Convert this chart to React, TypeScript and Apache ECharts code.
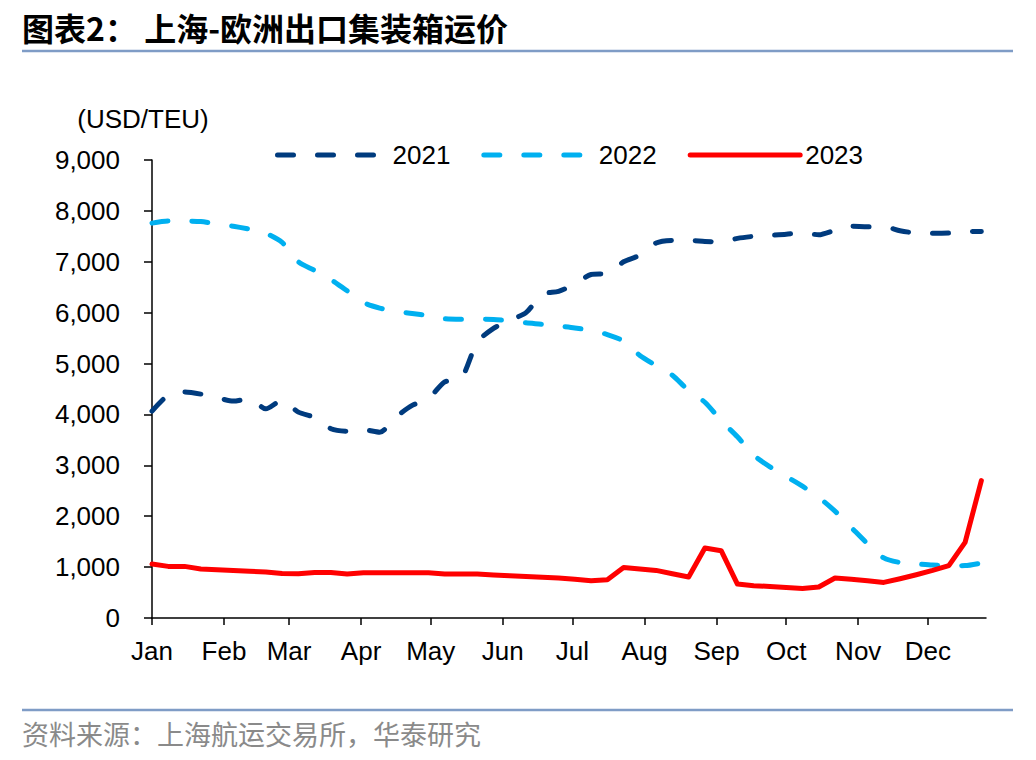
import React, { useEffect, useRef } from "react";
import * as echarts from "echarts";

const monthLabels = ["Jan", "Feb", "Mar", "Apr", "May", "Jun", "Jul", "Aug", "Sep", "Oct", "Nov", "Dec"];
const monthStartDays = [0, 31, 59, 90, 120, 151, 181, 212, 243, 273, 304, 334];
const axisEndDay = 359;
const weekDays = 7;

const yTicks = [0, 1000, 2000, 3000, 4000, 5000, 6000, 7000, 8000, 9000];

const values2021 = [
  4065, 4380, 4440, 4400, 4330, 4262, 4310, 4110, 4280, 4045,
  3940, 3720, 3671, 3700, 3650, 3950, 4177, 4310, 4640, 4700,
  5420, 5690, 5850, 6000, 6360, 6420, 6560, 6750, 6770, 7000,
  7130, 7370, 7420, 7420, 7400, 7390, 7460, 7500, 7520, 7540,
  7570, 7530, 7620, 7700, 7690, 7690, 7610, 7565, 7560, 7565,
  7590, 7596,
];

const values2022 = [
  7760, 7800, 7800, 7790, 7740, 7700, 7640, 7560, 7380, 7000,
  6830, 6650, 6430, 6200, 6090, 6020, 5985, 5940, 5880, 5870,
  5870, 5865, 5840, 5800, 5770, 5735, 5700, 5650, 5570, 5440,
  5160, 4960, 4770, 4470, 4240, 3880, 3560, 3200, 2970, 2780,
  2590, 2370, 2100, 1780, 1460, 1180, 1090, 1065, 1040, 1028,
  1030, 1081,
];

const values2023 = [
  1061, 1014, 1014, 962, 950, 935, 920, 905, 875, 870,
  893, 893, 864, 888, 888, 888, 888, 888, 866, 866,
  866, 845, 830, 815, 800, 785, 760, 732, 752, 994,
  965, 935, 870, 805, 1376, 1323, 667, 634, 620, 600,
  581, 608, 785, 760, 730, 699, 771, 850, 935, 1028,
  1486, 2700,
];

const seriesNames = ["2021", "2022", "2023"];
const seriesColors = ["#003b7e", "#00b0f0", "#ff0000"];

const toPoints = (vals: number[]) => vals.map((v, i) => [i * weekDays, v]);

export default function App() {
  const ref = useRef<HTMLDivElement>(null);

  useEffect(() => {
    if (!ref.current) return;
    const chart = echarts.init(ref.current, undefined, { renderer: "svg" });
    const axisFont = "Liberation Sans, Arial, sans-serif";
    const dash = [16, 24];
    const hiddenSymbol = { opacity: 0, borderWidth: 0 };

    const option: any = {
      animation: false,
      backgroundColor: "#ffffff",
      grid: { left: 152, right: 50, top: 160, bottom: 142, containLabel: false },
      legend: {
        left: 270,
        top: 137,
        itemWidth: 110,
        itemHeight: 14,
        itemGap: 31,
        textStyle: { fontSize: 26, color: "#000", fontFamily: axisFont },
        data: [
          { name: "2021", itemStyle: hiddenSymbol, lineStyle: { width: 5, type: dash, cap: "round", color: seriesColors[0] } },
          { name: "2022", itemStyle: hiddenSymbol, lineStyle: { width: 5, type: dash, cap: "round", color: seriesColors[1] } },
          { name: "2023", itemStyle: hiddenSymbol, lineStyle: { width: 5, type: "solid", cap: "round", color: seriesColors[2] } },
        ],
      },
      xAxis: {
        type: "value",
        min: 0,
        max: axisEndDay,
        splitLine: { show: false },
        axisLine: { show: true, lineStyle: { color: "#000", width: 1.5 } },
        axisTick: {
          show: true,
          inside: false,
          length: 7,
          customValues: monthStartDays,
          lineStyle: { color: "#000", width: 1.5 },
        },
        axisLabel: {
          customValues: monthStartDays,
          margin: 20,
          fontSize: 26,
          color: "#000",
          fontFamily: axisFont,
          formatter: (v: number) => {
            const idx = monthStartDays.indexOf(Math.round(v));
            return idx >= 0 ? monthLabels[idx] : "";
          },
        },
      },
      yAxis: {
        type: "value",
        min: 0,
        max: 9000,
        interval: 1000,
        name: "(USD/TEU)",
        nameLocation: "end",
        nameGap: 28,
        nameTextStyle: { fontSize: 26, color: "#000", fontFamily: axisFont, padding: [0, 18, 0, 0] },
        splitLine: { show: false },
        axisLine: { show: true, lineStyle: { color: "#000", width: 1.5 } },
        axisTick: { show: true, inside: false, length: 8, lineStyle: { color: "#000", width: 1.5 } },
        axisLabel: {
          margin: 32,
          fontSize: 26,
          color: "#000",
          fontFamily: axisFont,
          customValues: yTicks,
          formatter: (v: number) => v.toLocaleString("en-US"),
        },
      },
      series: [
        {
          name: seriesNames[0],
          type: "line",
          data: toPoints(values2021),
          symbol: "none",
          showSymbol: false,
          smooth: 0.25,
          lineStyle: { color: seriesColors[0], width: 5, type: dash, cap: "round", join: "round" },
          itemStyle: { color: seriesColors[0] },
          z: 3,
        },
        {
          name: seriesNames[1],
          type: "line",
          data: toPoints(values2022),
          symbol: "none",
          showSymbol: false,
          smooth: 0.25,
          lineStyle: { color: seriesColors[1], width: 5, type: dash, cap: "round", join: "round" },
          itemStyle: { color: seriesColors[1] },
          z: 2,
        },
        {
          name: seriesNames[2],
          type: "line",
          data: toPoints(values2023),
          symbol: "none",
          showSymbol: false,
          smooth: false,
          lineStyle: { color: seriesColors[2], width: 5, type: "solid", cap: "round", join: "round" },
          itemStyle: { color: seriesColors[2] },
          z: 4,
        },
      ],
      graphic: [
        {
          type: "text",
          left: 22,
          top: 11,
          style: {
            text: "图表2： 上海-欧洲出口集装箱运价",
            fontSize: 32,
            fontWeight: "bold",
            fontFamily: "Noto Sans CJK SC, sans-serif",
            fill: "#000",
          },
        },
        {
          type: "line",
          shape: { x1: 22, y1: 51, x2: 1013, y2: 51 },
          style: { stroke: "#7f9cc6", lineWidth: 2.5 },
        },
        {
          type: "line",
          shape: { x1: 22, y1: 710, x2: 1013, y2: 710 },
          style: { stroke: "#7f9cc6", lineWidth: 2.5 },
        },
        {
          type: "text",
          left: 22,
          top: 720,
          style: {
            text: "资料来源：上海航运交易所，华泰研究",
            fontSize: 27,
            fontFamily: "Noto Sans CJK SC, sans-serif",
            fill: "#8a8a8a",
          },
        },
      ],
    };

    chart.setOption(option);
    return () => chart.dispose();
  }, []);

  return (
    <div
      ref={ref}
      style={{ position: "fixed", left: 0, top: 0, width: 1036, height: 760, background: "#fff" }}
    />
  );
}
